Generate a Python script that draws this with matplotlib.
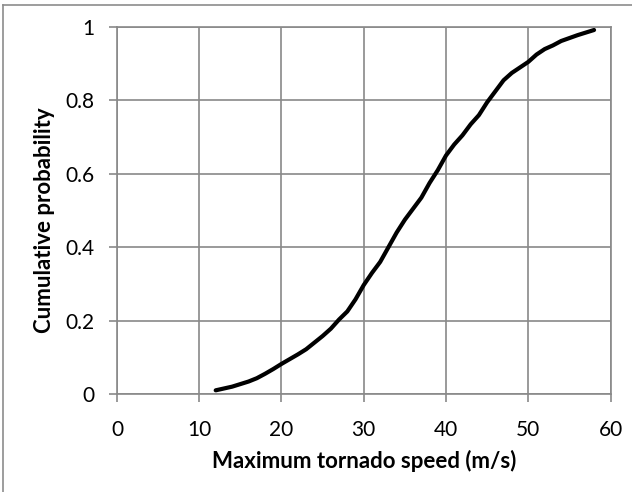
import matplotlib
matplotlib.use("Agg")
import matplotlib.pyplot as plt
from matplotlib.lines import Line2D

speed = [12, 13, 14, 15, 16, 17, 18, 19, 20, 21, 22, 23, 24, 25, 26, 27,
         28, 29, 30, 31, 32, 33, 34, 35, 36, 37, 38, 39, 40, 41, 42, 43,
         44, 45, 46, 47, 48, 49, 50, 51, 52, 53, 54, 55, 56, 57, 58]
cum_prob = [0.010, 0.015, 0.020, 0.027, 0.034, 0.043, 0.055, 0.068, 0.082,
            0.095, 0.108, 0.122, 0.140, 0.158, 0.178, 0.203, 0.225, 0.258,
            0.297, 0.330, 0.360, 0.400, 0.440, 0.475, 0.505, 0.535, 0.575,
            0.610, 0.650, 0.680, 0.705, 0.735, 0.760, 0.795, 0.825, 0.855,
            0.875, 0.890, 0.905, 0.925, 0.940, 0.950, 0.962, 0.970, 0.978,
            0.985, 0.992]

x_ticks = [0, 10, 20, 30, 40, 50, 60]
y_ticks = [0, 0.2, 0.4, 0.6, 0.8, 1]
y_tick_labels = ["0", "0.2", "0.4", "0.6", "0.8", "1"]

plt.rcParams["font.family"] = ["Lato", "DejaVu Sans"]
GRID = "#898989"

fig = plt.figure(figsize=(6.32, 4.92), dpi=100)
# chart-area frame: only the top and left edges fall inside the crop
fig.lines.append(Line2D([0.005, 0.005], [0, 0.99], transform=fig.transFigure,
                        color="#8c8c8c", linewidth=1.2))
fig.lines.append(Line2D([0.005, 1], [0.99, 0.99], transform=fig.transFigure,
                        color="#8c8c8c", linewidth=1.2))
ax = fig.add_axes([0.1851, 0.1992, 0.7809, 0.7458])

ax.plot(speed, cum_prob, color="black", linewidth=3.0, solid_capstyle="round")

ax.set_xlim(0, 60)
ax.set_ylim(0, 1)
ax.set_xticks(x_ticks)
ax.set_yticks(y_ticks)
ax.set_yticklabels(y_tick_labels)
ax.grid(True, color=GRID, linewidth=1.2)
ax.set_axisbelow(True)
for s in ax.spines.values():
    s.set_color(GRID)
    s.set_linewidth(1.2)
ax.tick_params(direction="out", length=5.5, width=1.2, color=GRID,
               labelsize=15, labelcolor="black")
ax.tick_params(axis="x", pad=13)
ax.tick_params(axis="y", pad=11)

ax.set_xlabel("Maximum tornado speed (m/s)", fontsize=16, fontweight="bold", va="center")
ax.set_ylabel("Cumulative probability", fontsize=16, fontweight="bold", va="center")
ax.xaxis.set_label_coords(0.5, -0.183)
ax.yaxis.set_label_coords(-0.146, 0.475)

fig.savefig("out.png", dpi=100)
